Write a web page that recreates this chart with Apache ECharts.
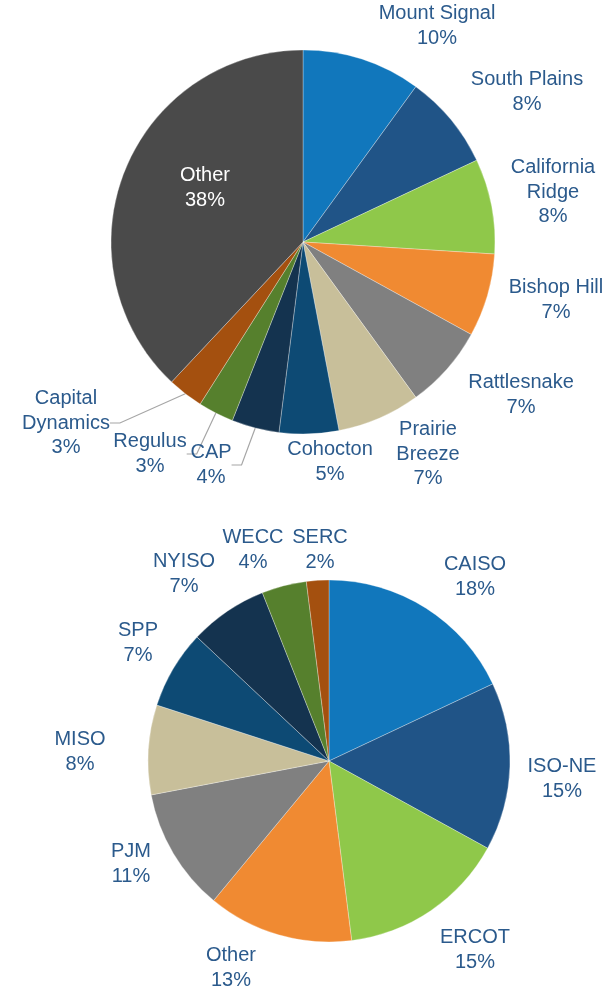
<!DOCTYPE html>
<html>
<head>
<meta charset="utf-8">
<script src="https://cdn.jsdelivr.net/npm/echarts@6/dist/echarts.min.js"></script>
<style>
  html, body { margin: 0; padding: 0; background: #fff; }
  #chart { width: 615px; height: 995px; }
</style>
</head>
<body>
<div id="chart"></div>
<script>
// Projects (top pie), clockwise from 12 o'clock
const projectNames = ['Mount Signal', 'South Plains', 'California\nRidge', 'Bishop Hill', 'Rattlesnake',
  'Prairie\nBreeze', 'Cohocton', 'CAP', 'Regulus', 'Capital\nDynamics', 'Other'];
const projectShares = [10, 8, 8, 7, 7, 7, 5, 4, 3, 3, 38];

// Markets (bottom pie), clockwise from 12 o'clock
const marketNames = ['CAISO', 'ISO-NE', 'ERCOT', 'Other', 'PJM', 'MISO', 'SPP', 'NYISO', 'WECC', 'SERC'];
const marketShares = [18, 15, 15, 13, 11, 8, 7, 7, 4, 2];

const palette = ['#1177bc', '#205487', '#8fc84a', '#f08a32', '#808080', '#c8bf9a',
  '#0d4a74', '#14334f', '#56802d', '#a4500f', '#4a4a4a'];

// label centres (layout only)
const projectLabelPos = [[437, 26], [527, 92], [553, 192], [556, 300], [521, 395],
  [428, 454], [330, 462], [211, 465], [150, 454], [66, 423], [205, 188]];
const marketLabelPos = [[475, 577], [562, 779], [475, 950], [231, 968], [131, 864],
  [80, 752], [138, 643], [184, 574], [253, 550], [320, 550]];
const labelPos = [projectLabelPos, marketLabelPos];

const withLine = ['CAP', 'Regulus', 'Capital\nDynamics'];

const chart = echarts.init(document.getElementById('chart'));

const textColor = '#2b5a8c';

function buildData(names, values, isTop) {
  return names.map((n, i) => {
    const item = { name: n, value: values[i], itemStyle: { color: palette[i] } };
    if (isTop && withLine.includes(n)) item.labelLine = { show: true };
    if (isTop && n === 'Other') item.label = { color: '#ffffff' };
    return item;
  });
}

const baseSeries = {
  type: 'pie',
  startAngle: 90,
  clockwise: true,
  avoidLabelOverlap: false,
  animation: false,
  itemStyle: {
    borderColor: 'rgba(255,255,255,0.5)',
    borderWidth: 0.6
  },
  label: {
    show: true,
    position: 'outside',
    formatter: '{b}\n{c}%',
    fontFamily: "'Liberation Sans', Arial, sans-serif",
    fontSize: 20,
    lineHeight: 24.5,
    color: textColor,
    align: 'center'
  },
  labelLine: {
    show: false,
    length: 10,
    length2: 10,
    lineStyle: { color: '#a6a6a6', width: 1.2 }
  },
  labelLayout: (params) => {
    const p = labelPos[params.seriesIndex][params.dataIndex];
    return { x: p[0], y: p[1], align: 'center', verticalAlign: 'middle', hideOverlap: false };
  },
  emphasis: { disabled: true }
};

const option = {
  backgroundColor: '#ffffff',
  series: [
    Object.assign({}, baseSeries, {
      center: [303, 242],
      radius: 192,
      data: buildData(projectNames, projectShares, true)
    }),
    Object.assign({}, baseSeries, {
      center: [329, 761],
      radius: 181,
      data: buildData(marketNames, marketShares, false)
    })
  ]
};

chart.setOption(option);
</script>
</body>
</html>
